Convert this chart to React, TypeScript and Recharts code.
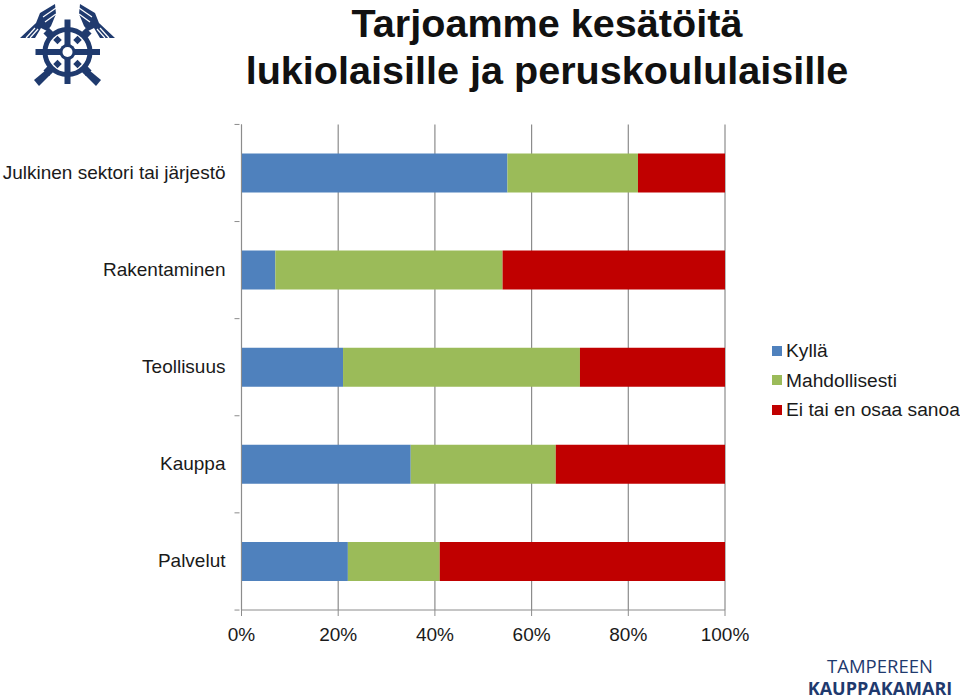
import React from 'react';
import { BarChart, Bar, XAxis, YAxis, CartesianGrid, Legend } from 'recharts';

const categories = ['Julkinen sektori tai järjestö', 'Rakentaminen', 'Teollisuus', 'Kauppa', 'Palvelut'];
const kylla = [55, 7, 21, 35, 22];
const mahdollisesti = [27, 47, 49, 30, 19];
const eiTaiEn = [18, 46, 30, 35, 59];
const xTicks = [0, 20, 40, 60, 80, 100];

const seriesNames = ['Kyllä', 'Mahdollisesti', 'Ei tai en osaa sanoa'];
const seriesColors = ['#4f81bd', '#9bbb59', '#c00000'];

const data = categories.map((name, i) => ({
  name,
  kylla: kylla[i],
  mahdollisesti: mahdollisesti[i],
  eiTaiEn: eiTaiEn[i],
}));

const FONT = '"Liberation Sans", Arial, sans-serif';
const AXIS = '#8c8c8c';
const NAVY = '#1f3a6e';
const BAND = 97.2;

// category ticks sit between the bars, so they are drawn with the label
const CategoryTick = (props: any) => {
  const { x, y, payload, index } = props;
  return (
    <g>
      <line x1={x + 1} x2={x + 6} y1={y - BAND / 2} y2={y - BAND / 2} stroke={AXIS} />
      {index === categories.length - 1 && (
        <line x1={x + 1} x2={x + 6} y1={y + BAND / 2} y2={y + BAND / 2} stroke={AXIS} />
      )}
      <text x={x - 8} y={y + 6} textAnchor="end" fontSize={19} fill="#1a1a1a" fontFamily={FONT}>
        {payload.value}
      </text>
    </g>
  );
};

const renderLegend = () => (
  <div style={{ fontFamily: FONT, fontSize: 19.2, color: '#1a1a1a', lineHeight: '29.5px' }}>
    {seriesNames.map((name, i) => (
      <div key={name} style={{ display: 'flex', alignItems: 'center', whiteSpace: 'nowrap' }}>
        <span style={{ width: 10, height: 10, background: seriesColors[i], marginRight: 4 }} />
        {name}
      </div>
    ))}
  </div>
);

const Wing = () => (
  <g>
    <polygon fill={NAVY} points="20,38 36,23 40,13 55,4 56,14 51,26 47,31 41,28 35,38" />
    <g stroke="#fff" strokeWidth={1.2}>
      <line x1={43} y1={17} x2={56} y2={8} />
      <line x1={45} y1={22} x2={56} y2={14} />
      <line x1={26} y1={38} x2={35} y2={28} />
      <line x1={30} y1={38} x2={38} y2={29} />
    </g>
  </g>
);

const Logo = () => {
  const teeth = [45, 135, 225, 315];
  const diamonds = [[-10, -12], [10, -12], [-10, 12], [10, 12]];
  return (
    <svg width={130} height={95} style={{ position: 'absolute', left: 0, top: 0 }}>
      <Wing />
      <g transform="translate(135 0) scale(-1 1)">
        <Wing />
      </g>
      <g fill={NAVY}>
        {teeth.map(a => (
          <rect key={a} x={63.5} y={22} width={8} height={8} transform={`rotate(${a} 67.5 52)`} />
        ))}
        <rect x={64.5} y={19.5} width={6} height={64.5} />
        <rect x={35.5} y={49} width={64.5} height={6} />
        {diamonds.map(([dx, dy]) => (
          <rect key={`${dx}${dy}`} x={-3} y={-3} width={6} height={6} transform={`translate(${67.5 + dx} ${52 + dy}) rotate(45)`} />
        ))}
        <polygon points="34,80 46,70 50,75 39,86" />
        <polygon points="101,80 89,70 85,75 96,86" />
      </g>
      <circle cx={67.5} cy={52} r={22.5} fill="none" stroke={NAVY} strokeWidth={5} />
      <circle cx={67.5} cy={52} r={8} fill={NAVY} />
      <circle cx={67.5} cy={52} r={5} fill="#fff" />
    </svg>
  );
};

const App: React.FC = () => (
  <div style={{ position: 'absolute', left: 0, top: 0, width: 960, height: 700, background: '#fff', overflow: 'hidden' }}>
    <Logo />
    <div
      style={{
        position: 'absolute', left: 147, top: 0, width: 800, textAlign: 'center',
        fontFamily: FONT, fontWeight: 700, fontSize: 39.6, lineHeight: '47px', color: '#111',
      }}
    >
      Tarjoamme kesätöitä<br />lukiolaisille ja peruskoululaisille
    </div>
    <BarChart
      width={960}
      height={700}
      data={data}
      layout="vertical"
      margin={{ top: 124.5, right: 235, bottom: 60, left: 0 }}
      barSize={39}
    >
      <CartesianGrid vertical horizontal={false} stroke={AXIS} strokeWidth={1.2} />
      <XAxis
        type="number"
        domain={[0, 100]}
        ticks={xTicks}
        tickFormatter={(v: number) => `${v}%`}
        tickSize={6}
        tickMargin={12}
        height={30}
        stroke={AXIS}
        interval={0}
        tick={{ fontSize: 19, fill: '#1a1a1a', fontFamily: FONT }}
      />
      <YAxis
        type="category"
        dataKey="name"
        width={241.5}
        stroke={AXIS}
        tickLine={false}
        interval={0}
        tick={<CategoryTick />}
      />
      <Legend
        layout="vertical"
        verticalAlign="middle"
        content={renderLegend}
        wrapperStyle={{ left: 772, top: 336, width: 188, bottom: 'auto', right: 'auto' }}
      />
      <Bar dataKey="kylla" name={seriesNames[0]} stackId="a" fill={seriesColors[0]} isAnimationActive={false} />
      <Bar dataKey="mahdollisesti" name={seriesNames[1]} stackId="a" fill={seriesColors[1]} isAnimationActive={false} />
      <Bar dataKey="eiTaiEn" name={seriesNames[2]} stackId="a" fill={seriesColors[2]} isAnimationActive={false} />
    </BarChart>
    <div style={{ position: 'absolute', left: 780, top: 655, width: 200, textAlign: 'center', color: NAVY, fontFamily: '"Open Sans", sans-serif', fontSize: 18.5, lineHeight: '22px' }}>
      TAMPEREEN<br /><b style={{ fontSize: 18 }}>KAUPPAKAMARI</b>
    </div>
  </div>
);

export default App;
